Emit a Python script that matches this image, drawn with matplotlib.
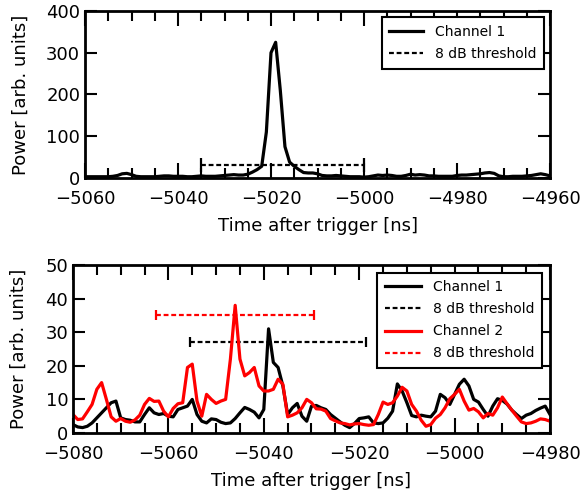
import numpy as np
import matplotlib
matplotlib.use("Agg")
import matplotlib.pyplot as plt
from matplotlib.ticker import MultipleLocator

# --- top panel: single event, channel 1 only (1 ns samples)
top_t0, top_t1 = -5060, -4960
top_ch1 = [
    3, 3, 3, 3, 3, 3, 4, 6, 10, 11,
    8, 4, 3, 3, 3, 3, 4, 5, 5, 4,
    4, 4, 3, 3, 4, 5, 4, 4, 4, 5,
    6, 7, 8, 7, 7, 9, 14, 20, 28, 110,
    300, 325, 210, 75, 38, 28, 20, 13, 12, 12,
    10, 6, 5, 5, 6, 5, 4, 3, 3, 3,
    2, 3, 5, 7, 6, 7, 6, 4, 4, 6,
    9, 7, 8, 7, 5, 5, 4, 4, 4, 4,
    6, 7, 7, 8, 9, 10, 12, 13, 11, 5,
    3, 3, 4, 4, 4, 5, 6, 8, 10, 8,
    5,
]
top_thr = (-5035.0, -5000.0, 32.0)   # start, end, level

# --- bottom panel: two channels (1 ns samples)
bot_t0, bot_t1 = -5080, -4980
bot_ch1 = [
    2.5, 1.8, 1.6, 2.0, 3.0, 4.5, 6.0, 7.5, 9.0, 9.5,
    4.5, 4.0, 3.8, 3.3, 3.3, 5.5, 7.5, 6.0, 5.5, 5.8,
    5.0, 4.8, 7.0, 7.5, 8.0, 10.0, 5.5, 3.5, 3.0, 4.2,
    4.0, 3.2, 2.8, 3.0, 4.3, 6.0, 7.6, 7.0, 6.2, 4.5,
    7.0, 31.0, 21.0, 19.5, 14.0, 5.5, 7.5, 8.8, 5.0, 3.5,
    8.0, 8.2, 7.5, 7.0, 5.5, 4.4, 3.3, 2.3, 1.6, 2.8,
    4.3, 4.5, 4.8, 3.0, 2.8, 3.0, 4.4, 6.5, 14.6, 12.5,
    9.0, 5.2, 4.8, 5.3, 5.0, 4.8, 6.5, 11.5, 10.5, 8.5,
    11.5, 14.5, 16.0, 14.0, 10.0, 9.2, 7.0, 5.0, 8.0, 10.2,
    9.7, 8.6, 6.8, 5.5, 4.3, 5.3, 5.8, 6.7, 7.4, 8.0,
    5.5,
]
bot_ch2 = [
    5.5, 4.0, 4.2, 6.3, 8.5, 13.0, 15.0, 10.0, 4.8, 3.5,
    4.3, 3.5, 3.2, 3.9, 5.3, 8.5, 10.3, 9.4, 9.5, 6.5,
    4.8, 7.3, 8.7, 9.0, 19.5, 20.5, 9.5, 5.0, 11.5, 10.0,
    8.8, 9.5, 10.0, 22.0, 38.0, 22.0, 17.0, 18.0, 19.5, 14.0,
    12.5, 12.5, 13.0, 16.0, 14.5, 4.8, 5.3, 6.0, 7.5, 10.0,
    9.0, 7.2, 7.1, 6.5, 4.3, 3.6, 3.0, 2.8, 2.4, 2.7,
    2.8, 2.5, 2.3, 2.5, 5.5, 9.2, 8.5, 9.0, 11.0, 13.6,
    12.5, 8.5, 6.5, 3.8, 2.0, 2.5, 4.4, 5.5, 7.5, 10.2,
    11.5, 13.0, 9.5, 6.8, 7.3, 6.3, 4.5, 5.8, 5.3, 7.5,
    10.7, 8.7, 6.8, 5.0, 3.3, 2.8, 3.0, 3.5, 4.2, 4.0,
    3.5,
]
bot_thr1 = (-5055.5, -5018.5, 27.0)
bot_thr2 = (-5062.5, -5029.5, 35.0)

plt.rcParams["font.family"] = ["DejaVu Sans"]
plt.rcParams["font.size"] = 13
plt.rcParams["lines.scale_dashes"] = False
plt.rcParams["axes.linewidth"] = 2.0

DASH = (3.5, 2.0)


def style_axes(ax, xmin, xmax, ymax, ystep):
    ax.set_xlim(xmin, xmax)
    ax.set_ylim(0, ymax)
    ax.xaxis.set_major_locator(MultipleLocator(20))
    ax.xaxis.set_minor_locator(MultipleLocator(5))
    ax.yaxis.set_major_locator(MultipleLocator(ystep))
    ax.tick_params(which="both", direction="in", top=True, right=True, width=1.5)
    ax.tick_params(axis="x", which="major", length=10.5, pad=9)
    ax.tick_params(axis="x", which="minor", length=7)
    ax.tick_params(axis="y", which="major", length=8.5, pad=3.5)
    ax.set_xlabel("Time after trigger [ns]", labelpad=6)
    ax.set_ylabel("Power [arb. units]")


def threshold(ax, thr, color, capsize, label):
    x0, x1, y = thr
    ax.plot([x0, x1], [y, y], color=color, lw=1.6, dashes=DASH, label=label)
    ax.plot([x0, x1], [y, y], ls="none", marker="|", ms=capsize, mew=1.6, color=color)


def add_legend(ax, pad, hlen):
    leg = ax.legend(loc="upper right", fontsize=10, frameon=True, fancybox=False,
                    edgecolor="black", framealpha=1, borderaxespad=pad,
                    handlelength=hlen, handletextpad=0.85, labelspacing=0.58,
                    borderpad=0.55)
    leg.get_frame().set_linewidth(1.5)


fig = plt.figure(figsize=(5.83, 4.97), dpi=100)

# top panel
ax1 = fig.add_axes([0.1458, 0.6419, 0.7976, 0.3360])
t_top = np.arange(top_t0, top_t1 + 1)
ax1.plot(t_top, top_ch1, color="black", lw=2.3, label="Channel 1")
threshold(ax1, top_thr, "black", 9.5, "8 dB threshold")
style_axes(ax1, top_t0, top_t1, 400, 100)
ax1.yaxis.set_label_coords(-0.118, 0.5)
add_legend(ax1, 0.45, 2.4)

# bottom panel
ax2 = fig.add_axes([0.1252, 0.1288, 0.8182, 0.3380])
t_bot = np.arange(bot_t0, bot_t1 + 1)
ax2.plot(t_bot, bot_ch1, color="black", lw=2.3, label="Channel 1")
threshold(ax2, bot_thr1, "black", 7.5, "8 dB threshold")
ax2.plot(t_bot, bot_ch2, color="red", lw=2.3, label="Channel 2")
threshold(ax2, bot_thr2, "red", 7.5, "8 dB threshold")
style_axes(ax2, bot_t0, bot_t1, 50, 10)
ax2.yaxis.set_label_coords(-0.094, 0.5)
add_legend(ax2, 0.55, 2.65)

fig.savefig("out.png", dpi=100)
